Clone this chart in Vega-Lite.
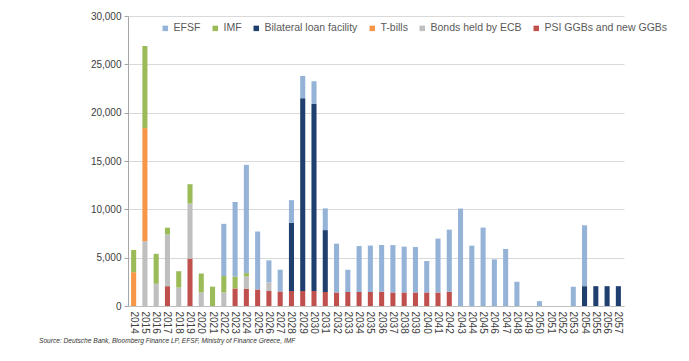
{
  "$schema": "https://vega.github.io/schema/vega-lite/v6.json",
  "autosize": {"type": "none"},
  "width": 496,
  "height": 290,
  "padding": {"left": 128, "top": 16, "right": 65, "bottom": 55},
  "background": "white",
  "title": {
    "text": "Source: Deutsche Bank, Bloomberg Finance LP, EFSF, Ministry of Finance Greece, IMF",
    "orient": "bottom",
    "anchor": "start",
    "frame": "group",
    "dx": -89,
    "offset": 5,
    "font": "Liberation Sans",
    "fontSize": 6.6,
    "fontStyle": "italic",
    "fontWeight": "normal",
    "color": "#333333"
  },
  "data": {
    "values": [
      {"year": "2014", "type": "T-bills", "value": 3500},
      {"year": "2014", "type": "IMF", "value": 2300},
      {"year": "2015", "type": "Bonds held by ECB", "value": 6700},
      {"year": "2015", "type": "T-bills", "value": 11700},
      {"year": "2015", "type": "IMF", "value": 8500},
      {"year": "2016", "type": "Bonds held by ECB", "value": 2300},
      {"year": "2016", "type": "IMF", "value": 3100},
      {"year": "2017", "type": "PSI GGBs and new GGBs", "value": 2050},
      {"year": "2017", "type": "Bonds held by ECB", "value": 5350},
      {"year": "2017", "type": "IMF", "value": 700},
      {"year": "2018", "type": "Bonds held by ECB", "value": 1900},
      {"year": "2018", "type": "IMF", "value": 1700},
      {"year": "2019", "type": "PSI GGBs and new GGBs", "value": 4900},
      {"year": "2019", "type": "Bonds held by ECB", "value": 5700},
      {"year": "2019", "type": "IMF", "value": 2000},
      {"year": "2020", "type": "Bonds held by ECB", "value": 1400},
      {"year": "2020", "type": "IMF", "value": 1950},
      {"year": "2021", "type": "IMF", "value": 2000},
      {"year": "2022", "type": "Bonds held by ECB", "value": 1400},
      {"year": "2022", "type": "IMF", "value": 1700},
      {"year": "2022", "type": "EFSF", "value": 5400},
      {"year": "2023", "type": "PSI GGBs and new GGBs", "value": 1800},
      {"year": "2023", "type": "IMF", "value": 1250},
      {"year": "2023", "type": "EFSF", "value": 7700},
      {"year": "2024", "type": "PSI GGBs and new GGBs", "value": 1800},
      {"year": "2024", "type": "Bonds held by ECB", "value": 1250},
      {"year": "2024", "type": "IMF", "value": 350},
      {"year": "2024", "type": "EFSF", "value": 11200},
      {"year": "2025", "type": "PSI GGBs and new GGBs", "value": 1700},
      {"year": "2025", "type": "EFSF", "value": 6000},
      {"year": "2026", "type": "PSI GGBs and new GGBs", "value": 1550},
      {"year": "2026", "type": "Bonds held by ECB", "value": 900},
      {"year": "2026", "type": "EFSF", "value": 2270},
      {"year": "2027", "type": "PSI GGBs and new GGBs", "value": 1500},
      {"year": "2027", "type": "EFSF", "value": 2250},
      {"year": "2028", "type": "PSI GGBs and new GGBs", "value": 1550},
      {"year": "2028", "type": "Bilateral loan facility", "value": 7050},
      {"year": "2028", "type": "EFSF", "value": 2350},
      {"year": "2029", "type": "PSI GGBs and new GGBs", "value": 1550},
      {"year": "2029", "type": "Bilateral loan facility", "value": 19950},
      {"year": "2029", "type": "EFSF", "value": 2300},
      {"year": "2030", "type": "PSI GGBs and new GGBs", "value": 1550},
      {"year": "2030", "type": "Bilateral loan facility", "value": 19350},
      {"year": "2030", "type": "EFSF", "value": 2350},
      {"year": "2031", "type": "PSI GGBs and new GGBs", "value": 1450},
      {"year": "2031", "type": "Bilateral loan facility", "value": 6400},
      {"year": "2031", "type": "EFSF", "value": 2250},
      {"year": "2032", "type": "PSI GGBs and new GGBs", "value": 1400},
      {"year": "2032", "type": "EFSF", "value": 5050},
      {"year": "2033", "type": "PSI GGBs and new GGBs", "value": 1450},
      {"year": "2033", "type": "EFSF", "value": 2300},
      {"year": "2034", "type": "PSI GGBs and new GGBs", "value": 1450},
      {"year": "2034", "type": "EFSF", "value": 4750},
      {"year": "2035", "type": "PSI GGBs and new GGBs", "value": 1450},
      {"year": "2035", "type": "EFSF", "value": 4800},
      {"year": "2036", "type": "PSI GGBs and new GGBs", "value": 1480},
      {"year": "2036", "type": "EFSF", "value": 4830},
      {"year": "2037", "type": "PSI GGBs and new GGBs", "value": 1400},
      {"year": "2037", "type": "EFSF", "value": 4900},
      {"year": "2038", "type": "PSI GGBs and new GGBs", "value": 1400},
      {"year": "2038", "type": "EFSF", "value": 4740},
      {"year": "2039", "type": "PSI GGBs and new GGBs", "value": 1400},
      {"year": "2039", "type": "EFSF", "value": 4700},
      {"year": "2040", "type": "PSI GGBs and new GGBs", "value": 1400},
      {"year": "2040", "type": "EFSF", "value": 3250},
      {"year": "2041", "type": "PSI GGBs and new GGBs", "value": 1400},
      {"year": "2041", "type": "EFSF", "value": 5570},
      {"year": "2042", "type": "PSI GGBs and new GGBs", "value": 1470},
      {"year": "2042", "type": "EFSF", "value": 6430},
      {"year": "2043", "type": "EFSF", "value": 10080},
      {"year": "2044", "type": "EFSF", "value": 6240},
      {"year": "2045", "type": "EFSF", "value": 8110},
      {"year": "2046", "type": "EFSF", "value": 4820},
      {"year": "2047", "type": "EFSF", "value": 5900},
      {"year": "2048", "type": "EFSF", "value": 2510},
      {"year": "2050", "type": "EFSF", "value": 500},
      {"year": "2053", "type": "EFSF", "value": 1990},
      {"year": "2054", "type": "Bilateral loan facility", "value": 2050},
      {"year": "2054", "type": "EFSF", "value": 6300},
      {"year": "2055", "type": "Bilateral loan facility", "value": 2050},
      {"year": "2056", "type": "Bilateral loan facility", "value": 2050},
      {"year": "2057", "type": "Bilateral loan facility", "value": 2050}
    ]
  },
  "transform": [
    {"calculate": "indexof(['PSI GGBs and new GGBs','Bonds held by ECB','T-bills','Bilateral loan facility','IMF','EFSF'], datum.type)", "as": "rank"}
  ],
  "mark": {"type": "bar"},
  "encoding": {
    "x": {
      "field": "year",
      "type": "ordinal",
      "scale": {
        "domain": ["2014","2015","2016","2017","2018","2019","2020","2021","2022","2023","2024","2025","2026","2027","2028","2029","2030","2031","2032","2033","2034","2035","2036","2037","2038","2039","2040","2041","2042","2043","2044","2045","2046","2047","2048","2049","2050","2051","2052","2053","2054","2055","2056","2057"],
        "paddingInner": 0.55,
        "paddingOuter": 0.275
      },
      "axis": {
        "title": null,
        "labelAngle": 90,
        "labelAlign": "left",
        "labelBaseline": "middle",
        "labelFont": "Liberation Sans",
        "labelFontSize": 10,
        "labelColor": "#404040",
        "labelPadding": 5,
        "ticks": false,
        "domainColor": "#bfbfbf",
        "labelOverlap": false
      }
    },
    "y": {
      "field": "value",
      "type": "quantitative",
      "stack": "zero",
      "scale": {"domain": [0, 30000], "nice": false},
      "axis": {
        "title": null,
        "values": [0, 5000, 10000, 15000, 20000, 25000, 30000],
        "format": ",d",
        "labelFont": "Liberation Sans",
        "labelFontSize": 10,
        "labelColor": "#404040",
        "labelPadding": 3,
        "tickSize": 4,
        "tickColor": "#a6a6a6",
        "domainColor": "#a6a6a6",
        "gridColor": "#d9d9d9",
        "gridWidth": 1
      }
    },
    "color": {
      "field": "type",
      "type": "nominal",
      "scale": {
        "domain": ["EFSF", "IMF", "Bilateral loan facility", "T-bills", "Bonds held by ECB", "PSI GGBs and new GGBs"],
        "range": ["#95b3d7", "#9bbb59", "#1f3f6e", "#f79646", "#bfbfbf", "#c0504d"]
      },
      "legend": {
        "title": null,
        "orient": "none",
        "direction": "horizontal",
        "legendX": 28,
        "legendY": 3,
        "fillColor": "white",
        "padding": 4,
        "symbolType": "square",
        "symbolSize": 30,
        "symbolStrokeWidth": 0,
        "labelFont": "Liberation Sans",
        "labelFontSize": 10.5,
        "labelColor": "#595959",
        "labelOffset": 3,
        "columnPadding": 9
      }
    },
    "order": {"field": "rank", "type": "quantitative"}
  },
  "config": {
    "view": {"stroke": null},
    "axis": {"gridColor": "#d9d9d9"}
  }
}
